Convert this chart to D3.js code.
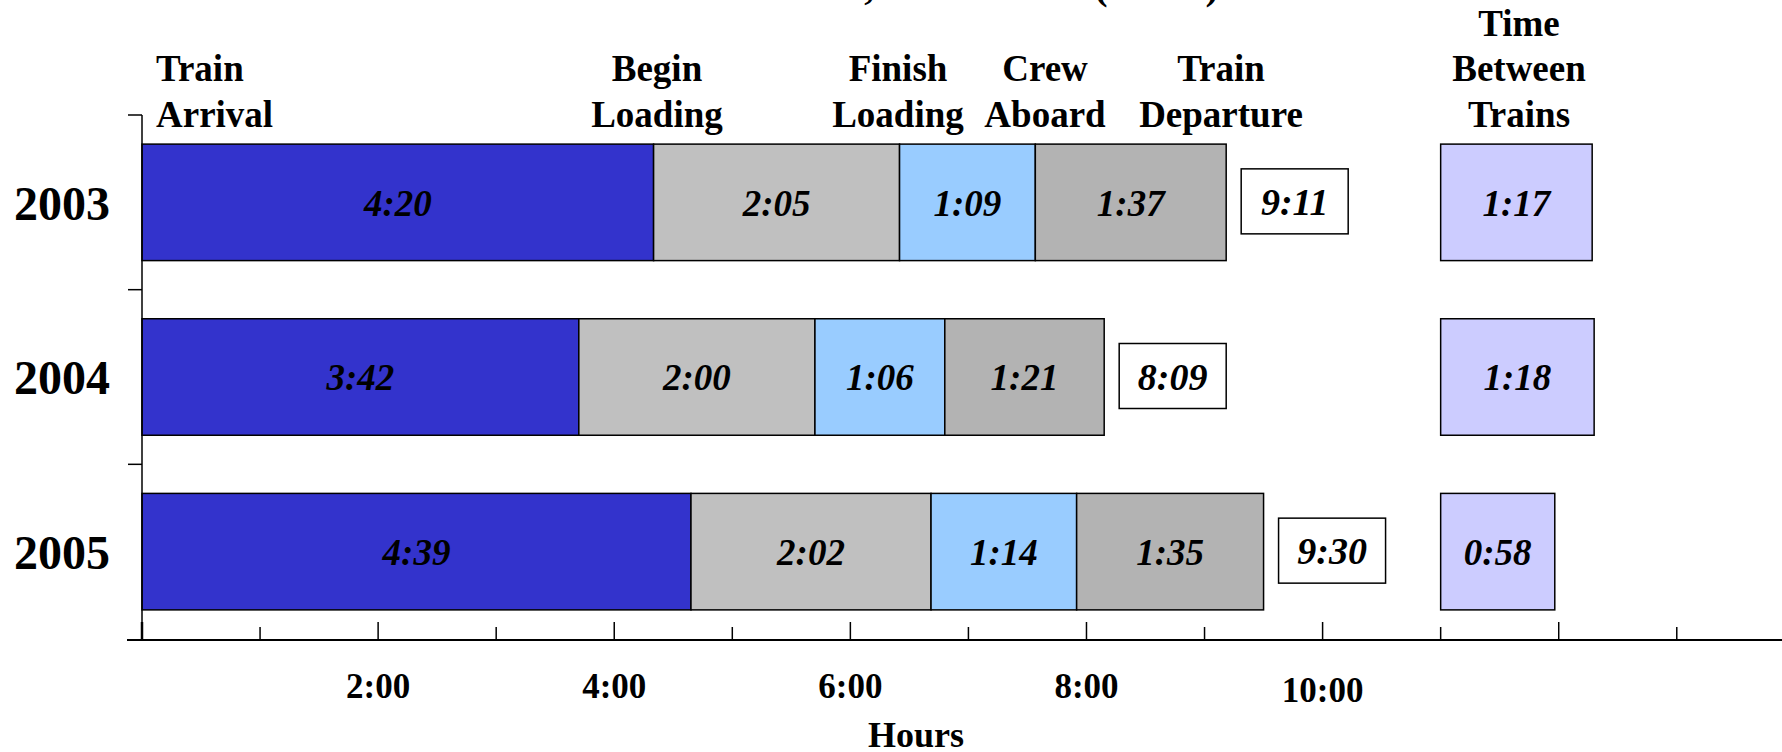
<!DOCTYPE html>
<html>
<head>
<meta charset="utf-8">
<script src="https://cdn.jsdelivr.net/npm/d3@7"></script>
<style>
  html, body { margin: 0; padding: 0; background: #fff; }
  svg { display: block; }
  text { font-family: "Liberation Serif", "Times New Roman", serif; font-weight: bold; fill: #000; }
</style>
</head>
<body>
<svg id="chart" width="1782" height="752"></svg>
<script>
// ---- data (h:mm) ----
const years = ["2003", "2004", "2005"];
const segmentNames = ["Arrival to Begin Loading", "Loading", "Finish Loading to Crew Aboard", "Crew Aboard to Departure"];
const arrivalToLoading = ["4:20", "3:42", "4:39"];
const loadingTime = ["2:05", "2:00", "2:02"];
const loadedToCrew = ["1:09", "1:06", "1:14"];
const crewToDeparture = ["1:37", "1:21", "1:35"];
const totalTimes = ["9:11", "8:09", "9:30"];
const betweenTrains = ["1:17", "1:18", "0:58"];
const eventLabels = [["Train", "Arrival"], ["Begin", "Loading"], ["Finish", "Loading"], ["Crew", "Aboard"], ["Train", "Departure"], ["Time", "Between", "Trains"]];
const xTickLabels = ["2:00", "4:00", "6:00", "8:00", "10:00"];
const titleText = "Process Times, 2003 – 2005 (hours)";
const axisTitle = "Hours";

// ---- helpers ----
const toHours = s => { const [h, m] = s.split(":").map(Number); return h + m / 60; };
const segColors = ["#3333CC", "#C0C0C0", "#99CCFF", "#B3B3B3"];
const betweenColor = "#CCCCFF";
const betweenStart = 11; // hours offset where the between-trains boxes begin

const svg = d3.select("#chart");

const x = d3.scaleLinear().domain([0, 13.5]).range([142, 142 + 13.5 * 118.06]);
const y = d3.scaleBand().domain(years).range([115, 639]).paddingInner(0.333).paddingOuter(0.1667);

// stacked segments per year
const seriesCols = [arrivalToLoading, loadingTime, loadedToCrew, crewToDeparture];
const rows = years.map((yr, i) => {
  let acc = 0;
  return seriesCols.map((col, k) => {
    const v = toHours(col[i]);
    const seg = { year: yr, k, name: segmentNames[k], label: col[i], x0: acc, x1: acc + v };
    acc += v;
    return seg;
  });
});

// ---- title (sits at the very top edge) ----
svg.append("text")
  .attr("x", 921).attr("y", -1)
  .attr("text-anchor", "middle")
  .style("font-size", "40px")
  .text(titleText);

// ---- bars ----
const barG = svg.append("g");
rows.forEach(segs => {
  const g = barG.append("g");
  g.selectAll("rect").data(segs).join("rect")
    .attr("x", d => x(d.x0))
    .attr("y", d => y(d.year))
    .attr("width", d => x(d.x1) - x(d.x0))
    .attr("height", y.bandwidth())
    .attr("fill", d => segColors[d.k])
    .attr("stroke", "#000").attr("stroke-width", 1.5);
  g.selectAll("text").data(segs).join("text")
    .attr("x", d => (x(d.x0) + x(d.x1)) / 2)
    .attr("y", d => y(d.year) + y.bandwidth() / 2)
    .attr("dy", "0.36em")
    .attr("text-anchor", "middle")
    .style("font-size", "37px").style("font-style", "italic")
    .text(d => d.label);
});

// total time boxes
const boxW = 107, boxH = 65, boxGap = 15;
const totG = svg.append("g");
years.forEach((yr, i) => {
  const t = toHours(totalTimes[i]);
  const cx = x(t) + boxGap;
  const cy = y(yr) + y.bandwidth() / 2;
  totG.append("rect")
    .attr("x", cx).attr("y", cy - boxH / 2 - 1)
    .attr("width", boxW).attr("height", boxH)
    .attr("fill", "#fff").attr("stroke", "#000").attr("stroke-width", 1.5);
  totG.append("text")
    .attr("x", cx + boxW / 2).attr("y", cy - 1)
    .attr("dy", "0.36em").attr("text-anchor", "middle")
    .style("font-size", "38px").style("font-style", "italic")
    .text(totalTimes[i]);
});

// time between trains
const btG = svg.append("g");
years.forEach((yr, i) => {
  const v = toHours(betweenTrains[i]);
  btG.append("rect")
    .attr("x", x(betweenStart)).attr("y", y(yr))
    .attr("width", x(betweenStart + v) - x(betweenStart))
    .attr("height", y.bandwidth())
    .attr("fill", betweenColor).attr("stroke", "#000").attr("stroke-width", 1.5);
  btG.append("text")
    .attr("x", (x(betweenStart) + x(betweenStart + v)) / 2)
    .attr("y", y(yr) + y.bandwidth() / 2)
    .attr("dy", "0.36em").attr("text-anchor", "middle")
    .style("font-size", "37px").style("font-style", "italic")
    .text(betweenTrains[i]);
});

// ---- y axis ----
const yAxisX = x(0);
const yAx = svg.append("g");
yAx.append("line").attr("x1", yAxisX).attr("x2", yAxisX).attr("y1", 115).attr("y2", 640)
  .attr("stroke", "#000").attr("stroke-width", 1.5);
const boundaries = [115].concat(years.map(yr => y(yr) + y.bandwidth() + y.step() * y.paddingInner() / 2)).slice(0, 3);
yAx.selectAll("line.tick").data(boundaries).join("line").attr("class", "tick")
  .attr("x1", yAxisX - 14).attr("x2", yAxisX).attr("y1", d => d).attr("y2", d => d)
  .attr("stroke", "#000").attr("stroke-width", 1.5);
yAx.selectAll("text").data(years).join("text")
  .attr("x", 110).attr("y", d => y(d) + y.bandwidth() / 2)
  .attr("dy", "0.36em").attr("text-anchor", "end")
  .style("font-size", "48px")
  .text(d => d);

// ---- x axis ----
const axisY = 640;
const xAx = svg.append("g");
xAx.append("line").attr("x1", 127).attr("x2", 1782).attr("y1", axisY).attr("y2", axisY)
  .attr("stroke", "#000").attr("stroke-width", 1.8);
const hourTicks = d3.range(0, 14);
xAx.selectAll("line.tick").data(hourTicks).join("line").attr("class", "tick")
  .attr("x1", d => x(d)).attr("x2", d => x(d))
  .attr("y1", axisY).attr("y2", d => axisY - (d % 2 === 0 ? 18 : 13))
  .attr("stroke", "#000").attr("stroke-width", d => d === 0 ? 2.5 : 1.5);
xAx.selectAll("text").data(xTickLabels).join("text")
  .attr("x", d => x(toHours(d)))
  .attr("y", d => d === "10:00" ? 702 : 698)
  .attr("text-anchor", "middle")
  .style("font-size", "35px")
  .text(d => d);
svg.append("text")
  .attr("x", 916).attr("y", 747)
  .attr("text-anchor", "middle")
  .style("font-size", "36px")
  .text(axisTitle);

// ---- event headings ----
const headingLayout = [
  { x: 156, anchor: "start" },
  { x: 657, anchor: "middle" },
  { x: 898, anchor: "middle" },
  { x: 1045, anchor: "middle" },
  { x: 1221, anchor: "middle" },
  { x: 1519, anchor: "middle" }
];
const lineH = 45.5, lastBaseline = 126.5;
eventLabels.forEach((lines, i) => {
  const t = svg.append("text")
    .attr("text-anchor", headingLayout[i].anchor)
    .style("font-size", "37px");
  lines.forEach((ln, j) => {
    t.append("tspan")
      .attr("x", headingLayout[i].x)
      .attr("y", lastBaseline - (lines.length - 1 - j) * lineH)
      .text(ln);
  });
});
</script>
</body>
</html>
